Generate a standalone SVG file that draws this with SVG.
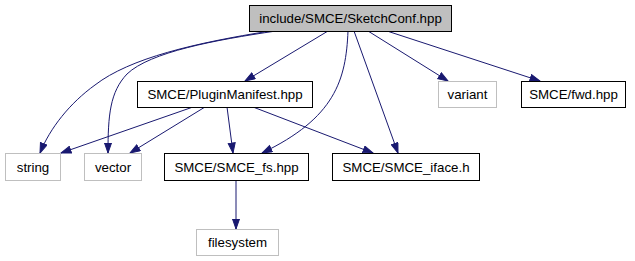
<svg xmlns="http://www.w3.org/2000/svg" width="635" height="261" viewBox="0 0 635 261">
  <style>
    .node rect { stroke: #000000; stroke-width: 1; fill: #ffffff; }
    .node.sys rect { stroke: #bfbfbf; }
    .node.root rect { fill: #bfbfbf; }
    .node text { font-family: "Liberation Sans", Arial, Helvetica, sans-serif; font-size: 13.3px; fill: #000000; text-anchor: middle; }
    .edges path { fill: none; stroke: #191970; stroke-width: 1; marker-end: url(#arrow); }
  </style>
  <defs>
    <marker id="arrow" markerUnits="userSpaceOnUse" markerWidth="12" markerHeight="10" refX="10.5" refY="4" orient="auto">
      <polygon points="0.5,0.5 10.5,4 0.5,7.5" fill="#191970" stroke="#191970" stroke-width="1"/>
    </marker>
  </defs>
  <rect width="635" height="261" fill="#ffffff"/>

  <g class="edges">
    <path d="M328,31 L245,81"/>
    <path d="M270,31 C195,43 130,58 95,85 C70,103 50,128 40,153"/>
    <path d="M276,31 C215,40 150,52 127,74 C110,92 108,115 108,153"/>
    <path d="M348,31 C346,80 335,118 262,153"/>
    <path d="M354,31 L398,153"/>
    <path d="M368,31 L448,81"/>
    <path d="M387,31 L540,81"/>
    <path d="M193,107 L61,153"/>
    <path d="M205,107 L130,153"/>
    <path d="M227,107 L233,153"/>
    <path d="M253,107 L373,153"/>
    <path d="M236,180 L236,229"/>
  </g>

  <g id="node-sketchconf" class="node root">
    <rect x="249.5" y="5.5" width="202" height="26"/>
    <text x="350.5" y="23">include/SMCE/SketchConf.hpp</text>
  </g>
  <g id="node-pluginmanifest" class="node">
    <rect x="137.5" y="81.5" width="175" height="26"/>
    <text x="225" y="99">SMCE/PluginManifest.hpp</text>
  </g>
  <g id="node-variant" class="node sys">
    <rect x="438.5" y="81.5" width="58" height="26"/>
    <text x="467.5" y="99">variant</text>
  </g>
  <g id="node-fwd" class="node">
    <rect x="521.5" y="81.5" width="104" height="26"/>
    <text x="573.5" y="99">SMCE/fwd.hpp</text>
  </g>
  <g id="node-string" class="node sys">
    <rect x="5.5" y="153.5" width="55" height="27"/>
    <text x="33" y="171.5">string</text>
  </g>
  <g id="node-vector" class="node sys">
    <rect x="84.5" y="153.5" width="57" height="27"/>
    <text x="113" y="171.5">vector</text>
  </g>
  <g id="node-smce-fs" class="node">
    <rect x="164.5" y="153.5" width="144" height="27"/>
    <text x="236.5" y="171.5">SMCE/SMCE_fs.hpp</text>
  </g>
  <g id="node-smce-iface" class="node">
    <rect x="332.5" y="153.5" width="147" height="27"/>
    <text x="406" y="171.5">SMCE/SMCE_iface.h</text>
  </g>
  <g id="node-filesystem" class="node sys">
    <rect x="196.5" y="229.5" width="82" height="26"/>
    <text x="237.5" y="247">filesystem</text>
  </g>
</svg>
